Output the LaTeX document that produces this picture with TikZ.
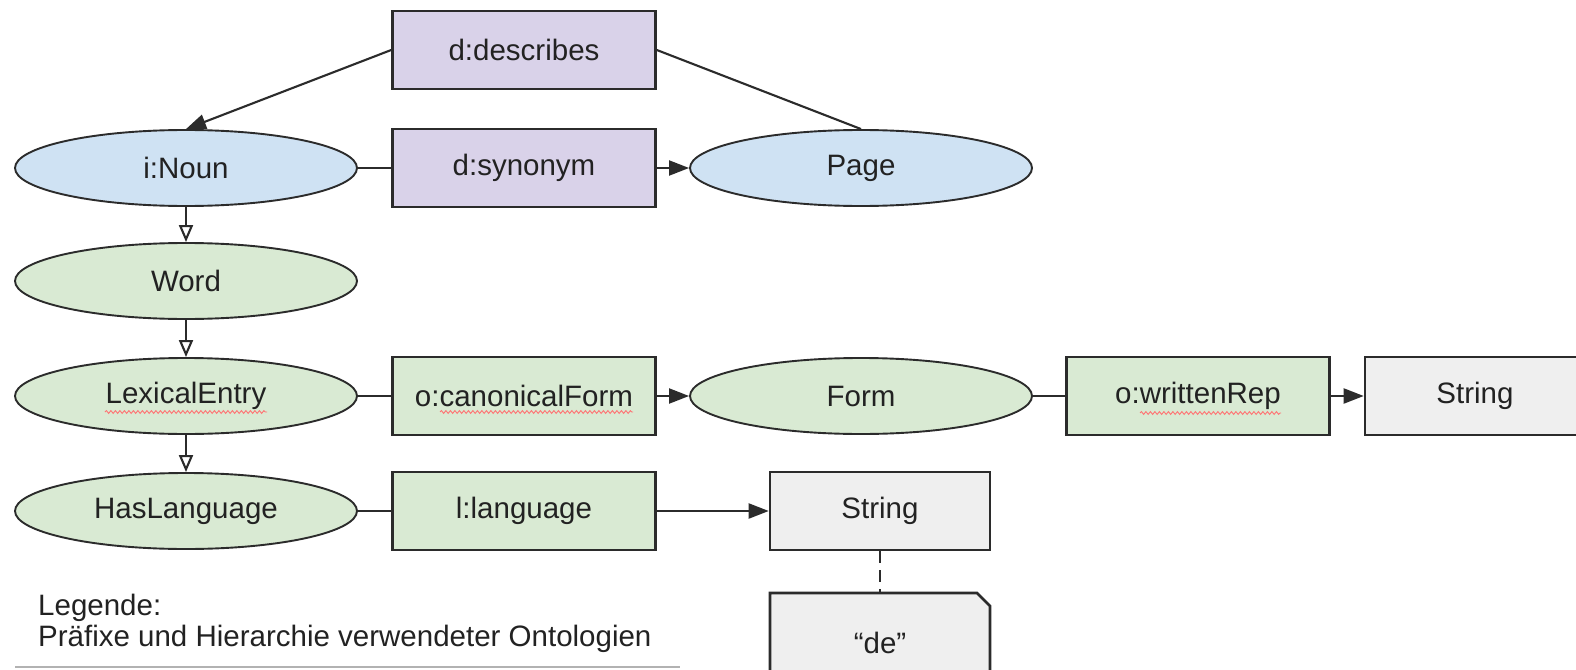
\documentclass[tikz,border=0pt]{standalone}
\usepackage{fontspec}
\setmainfont{Liberation Sans}
\usetikzlibrary{shapes.geometric,shapes.misc,arrows.meta,decorations.pathmorphing,calc}
\definecolor{propfill}{HTML}{D9D2E9}
\definecolor{classblue}{HTML}{CFE2F3}
\definecolor{classgreen}{HTML}{D9EAD3}
\definecolor{litfill}{HTML}{EFEFEF}
\definecolor{strokegray}{HTML}{2B2B2B}
\definecolor{labeltext}{HTML}{222222}

\begin{document}
\begin{tikzpicture}[x=1pt,y=-1pt,
  every node/.style={font=\fontsize{29.5}{34}\selectfont, text=labeltext},
  cls/.style={ellipse, draw=strokegray, line width=1.9pt,
    minimum width=342pt, minimum height=76pt, inner sep=0pt},
  prop/.style={rectangle, draw=strokegray, line width=2.6pt,
    minimum width=263pt, minimum height=78pt, inner sep=0pt},
  lit/.style={rectangle, draw=strokegray, line width=2.6pt, fill=litfill,
    minimum width=220pt, minimum height=78pt, inner sep=0pt},
  link/.style={draw=strokegray, line width=2.1pt},
  rel/.style={link, -{Triangle[length=20pt,width=15pt]}},
  isa/.style={link, -{Triangle[open,length=17pt,width=14pt,fill=white]}},
  squiggle/.style={draw=red!55, line width=0.9pt, decorate,
    decoration={snake, amplitude=1.4pt, segment length=4.5pt}}
]
\useasboundingbox (0,0) rectangle (1576,669);
\clip (0,0) rectangle (1576,669);
\fill[white] (0,0) rectangle (1576,669);

% classes
\node[cls, fill=classblue]  (noun) at (186,168) {i:Noun};
\node[cls, fill=classblue]  (page) at (861,168) {Page};
\node[cls, fill=classgreen] (word) at (186,281) {Word};
\node[cls, fill=classgreen] (lex)  at (186,396) {LexicalEntry};
\node[cls, fill=classgreen] (form) at (861,396) {Form};
\node[cls, fill=classgreen] (haslang) at (186,511) {HasLanguage};

% properties
\node[prop, fill=propfill]   (describes) at (524,50)  {d:describes};
\node[prop, fill=propfill]   (synonym)   at (524,168) {d:synonym};
\node[prop, fill=classgreen] (canon)     at (524,396) {o:canonicalForm};
\node[prop, fill=classgreen] (written)   at (1198,396) {o:writtenRep};
\node[prop, fill=classgreen] (language)  at (524,511) {l:language};

% literals
\node[lit] (str1) at (1475,396) {String};
\node[lit] (str2) at (880,511) {String};
\node[lit, chamfered rectangle, chamfered rectangle corners=north east,
  chamfered rectangle xsep=7pt, chamfered rectangle ysep=6pt,
  minimum height=100pt] (de) at (880,643) {``de''};

% relations
\draw[rel]  (describes.west) -- (noun.north);
\draw[link] (describes.east) -- (page.north);
\draw[link] (noun.east) -- (synonym.west);
\draw[rel]  (synonym.east) -- (page.west);
\draw[link] (lex.east) -- (canon.west);
\draw[rel]  (canon.east) -- (form.west);
\draw[link] (form.east) -- (written.west);
\draw[rel]  (written.east) -- (str1.west);
\draw[link] (haslang.east) -- (language.west);
\draw[rel]  (language.east) -- (str2.west);
\draw[link, dash pattern=on 12pt off 7pt] (str2.south) -- (de.north);

% hierarchy
\draw[isa] (noun.south) -- (word.north);
\draw[isa] (word.south) -- (lex.north);
\draw[isa] (lex.south) -- (haslang.north);

% spell-check underlines
\draw[squiggle] ($(lex.center)+(-81,16)$) -- ($(lex.center)+(81,16)$);
\draw[squiggle] ($(canon.center)+(-84,16)$) -- ($(canon.center)+(109,16)$);
\draw[squiggle] ($(written.center)+(-58,17)$) -- ($(written.center)+(83,17)$);

% legend
\node[anchor=west, inner sep=0pt] (legtitle) at (38,608) {Legende:};
\node[anchor=west, inner sep=0pt] (legtext) at (38,639) {Präfixe und Hierarchie verwendeter Ontologien};
\draw[black!30, line width=1.5pt] (15,667) -- (680,667);
\end{tikzpicture}
\end{document}
